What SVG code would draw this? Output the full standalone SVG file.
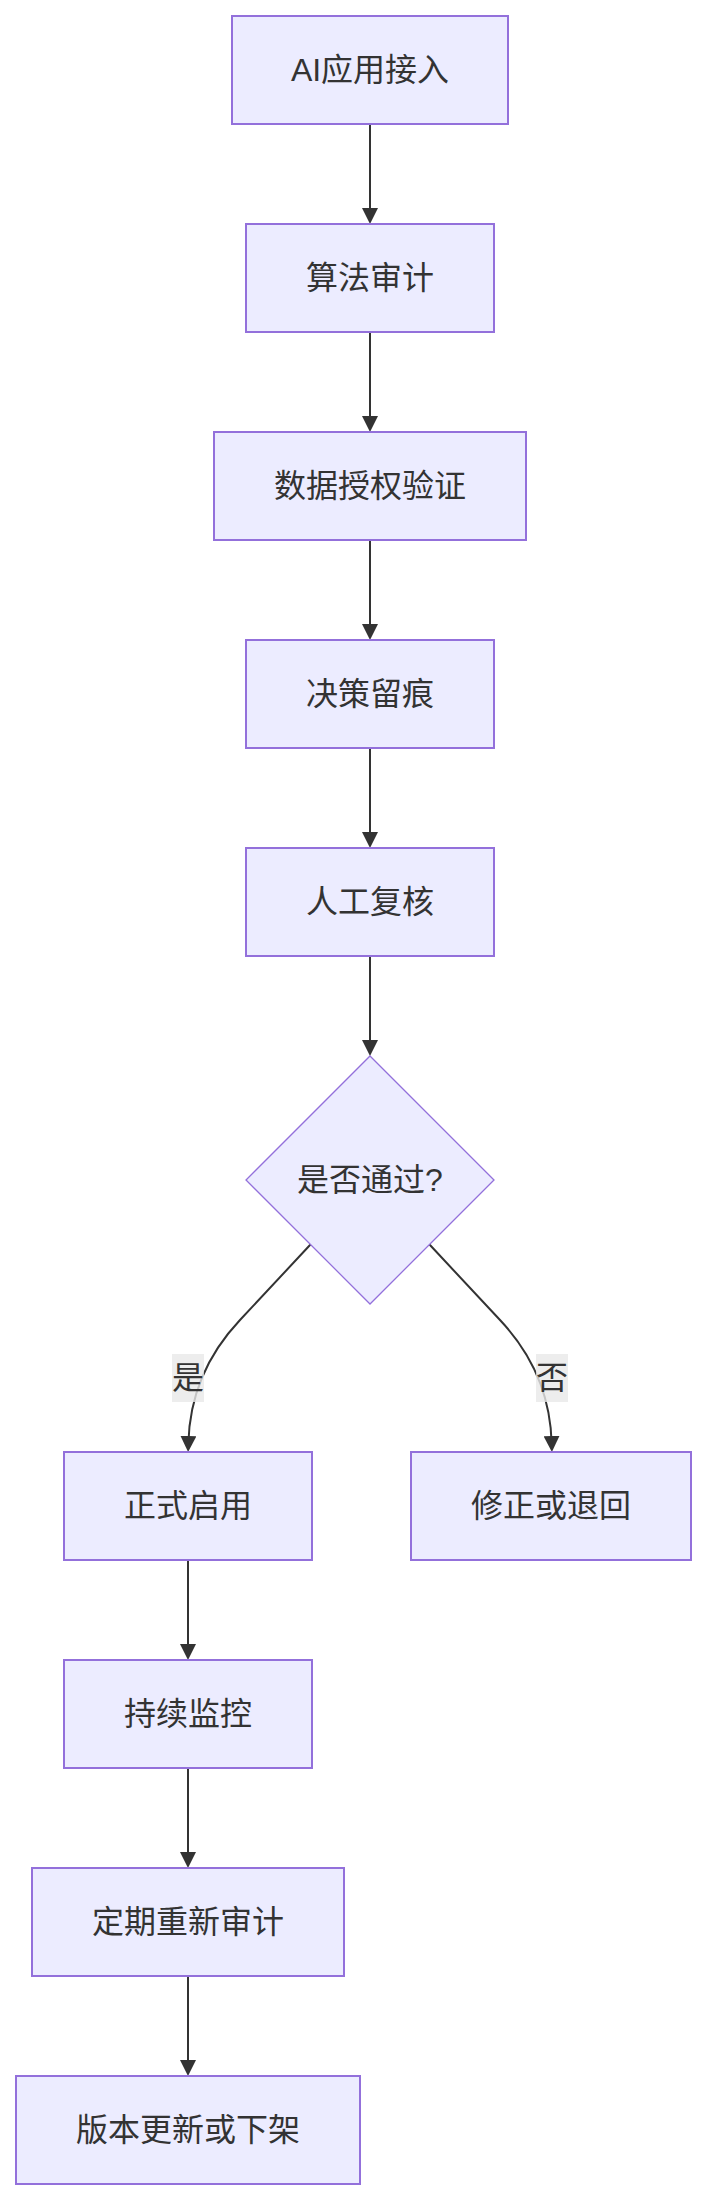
<svg xmlns="http://www.w3.org/2000/svg" width="708" height="2199" viewBox="0 0 708 2199">
<style>
.node rect,.node polygon{fill:#ECECFF;stroke:#9370DB;}
.node rect{stroke-width:2;}
.node polygon{stroke-width:1.3;}
text{font-family:"Liberation Sans","Noto Sans CJK SC",sans-serif;font-size:32px;fill:#333333;text-anchor:middle;dominant-baseline:central;}
.edge{fill:none;stroke:#333333;stroke-width:2;marker-end:url(#arrow);}
.lbl rect{fill:#e8e8e8;fill-opacity:0.8;}
</style>
<defs>
<marker id="arrow" viewBox="0 0 10 10" refX="5" refY="5" markerWidth="16" markerHeight="16" markerUnits="userSpaceOnUse" orient="auto">
<path d="M0,0 L10,5 L0,10 z" fill="#333333"/>
</marker>
</defs>
<rect width="708" height="2199" fill="#ffffff"/>
<g id="edges">
<path class="edge" d="M370,124 L370,216"/>
<path class="edge" d="M370,332 L370,424"/>
<path class="edge" d="M370,540 L370,632"/>
<path class="edge" d="M370,748 L370,840"/>
<path class="edge" d="M370,956 L370,1048"/>
<path class="edge" d="M310.7,1244.3 L240,1320 Q190,1373 188.3,1444"/>
<path class="edge" d="M429.3,1244.3 L500,1320 Q550,1373 551.7,1444"/>
<path class="edge" d="M188,1560 L188,1652"/>
<path class="edge" d="M188,1768 L188,1860"/>
<path class="edge" d="M188,1976 L188,2068"/>
<g class="lbl" id="label-yes"><rect x="172" y="1354" width="32" height="48"/><text x="188" y="1378">是</text></g>
<g class="lbl" id="label-no"><rect x="536" y="1354" width="32" height="48"/><text x="552" y="1378">否</text></g>
</g>
<g id="n1" class="node"><rect x="232" y="16" width="276" height="108"/><text x="370" y="70">AI应用接入</text></g>
<g id="n2" class="node"><rect x="246" y="224" width="248" height="108"/><text x="370" y="278">算法审计</text></g>
<g id="n3" class="node"><rect x="214" y="432" width="312" height="108"/><text x="370" y="486">数据授权验证</text></g>
<g id="n4" class="node"><rect x="246" y="640" width="248" height="108"/><text x="370" y="694">决策留痕</text></g>
<g id="n5" class="node"><rect x="246" y="848" width="248" height="108"/><text x="370" y="902">人工复核</text></g>
<g id="n6" class="node"><polygon points="370,1056 494,1180 370,1304 246,1180"/><text x="370" y="1180">是否通过?</text></g>
<g id="n7" class="node"><rect x="64" y="1452" width="248" height="108"/><text x="188" y="1506">正式启用</text></g>
<g id="n8" class="node"><rect x="411" y="1452" width="280" height="108"/><text x="551" y="1506">修正或退回</text></g>
<g id="n9" class="node"><rect x="64" y="1660" width="248" height="108"/><text x="188" y="1714">持续监控</text></g>
<g id="n10" class="node"><rect x="32" y="1868" width="312" height="108"/><text x="188" y="1922">定期重新审计</text></g>
<g id="n11" class="node"><rect x="16" y="2076" width="344" height="108"/><text x="188" y="2130">版本更新或下架</text></g>
</svg>
